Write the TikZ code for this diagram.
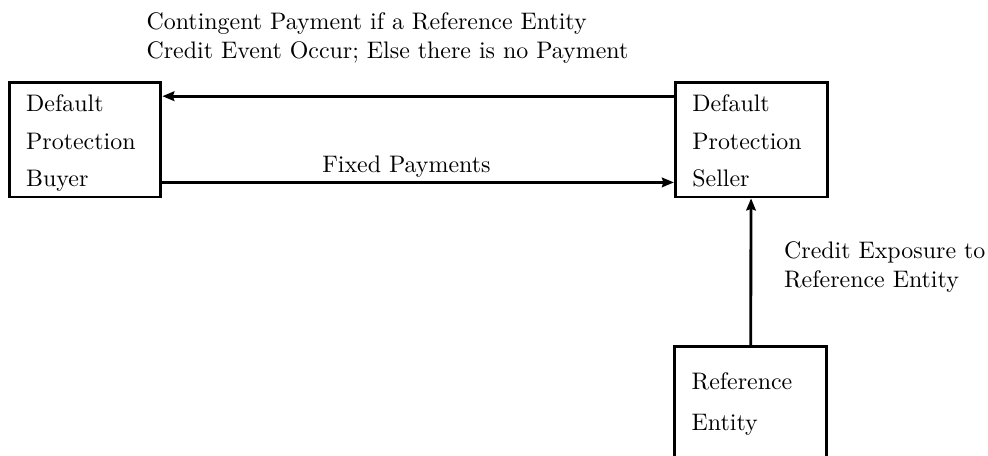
\documentclass[tikz,border=0pt]{standalone}
\usetikzlibrary{arrows.meta}

\tikzset{
	party/.style={draw,rectangle,line width=1.2pt,align=left,
		text width=1.73cm,inner xsep=0.25cm,inner ysep=0pt,minimum height=1.68cm},
	flow/.style={->,line width=1.2pt}
}
% fixed first-line height so both upper boxes set their text alike
\newcommand{\firstline}{\rule{0pt}{11.4pt}}

\begin{document}
\begin{tikzpicture}[>={Stealth[length=5pt,width=4pt,inset=0.6pt]}]
	\useasboundingbox (0,0) rectangle (14.52,6.70);
	\node[party] (buyer) at (1.25,4.645) {\firstline Default\\[3.6pt]Protection\\[3.6pt]Buyer\strut};
	\node[party] (seller) at (11.04,4.645) {\firstline Default\\[3.6pt]Protection\\[3.6pt]Seller\strut};
	\node[party] (entity) at (11.03,0.764) {Reference\\[5pt]Entity};

	\draw[flow] ([yshift=-0.22cm]seller.north west) -- node[above=0.35cm,pos=0.56,align=left]
		{Contingent Payment if a Reference Entity\\Credit Event Occur; Else there is no Payment}
		([yshift=-0.22cm]buyer.north east);
	\draw[flow] ([yshift=0.235cm]buyer.south east) -- node[above,inner sep=1.5pt,pos=0.477]
		{Fixed Payments} ([yshift=0.235cm]seller.south west);
	\draw[flow] (entity) -- node[right=0.35cm,pos=0.533,align=left]
		{Credit Exposure to\\Reference Entity} (seller);
\end{tikzpicture}
\end{document}
